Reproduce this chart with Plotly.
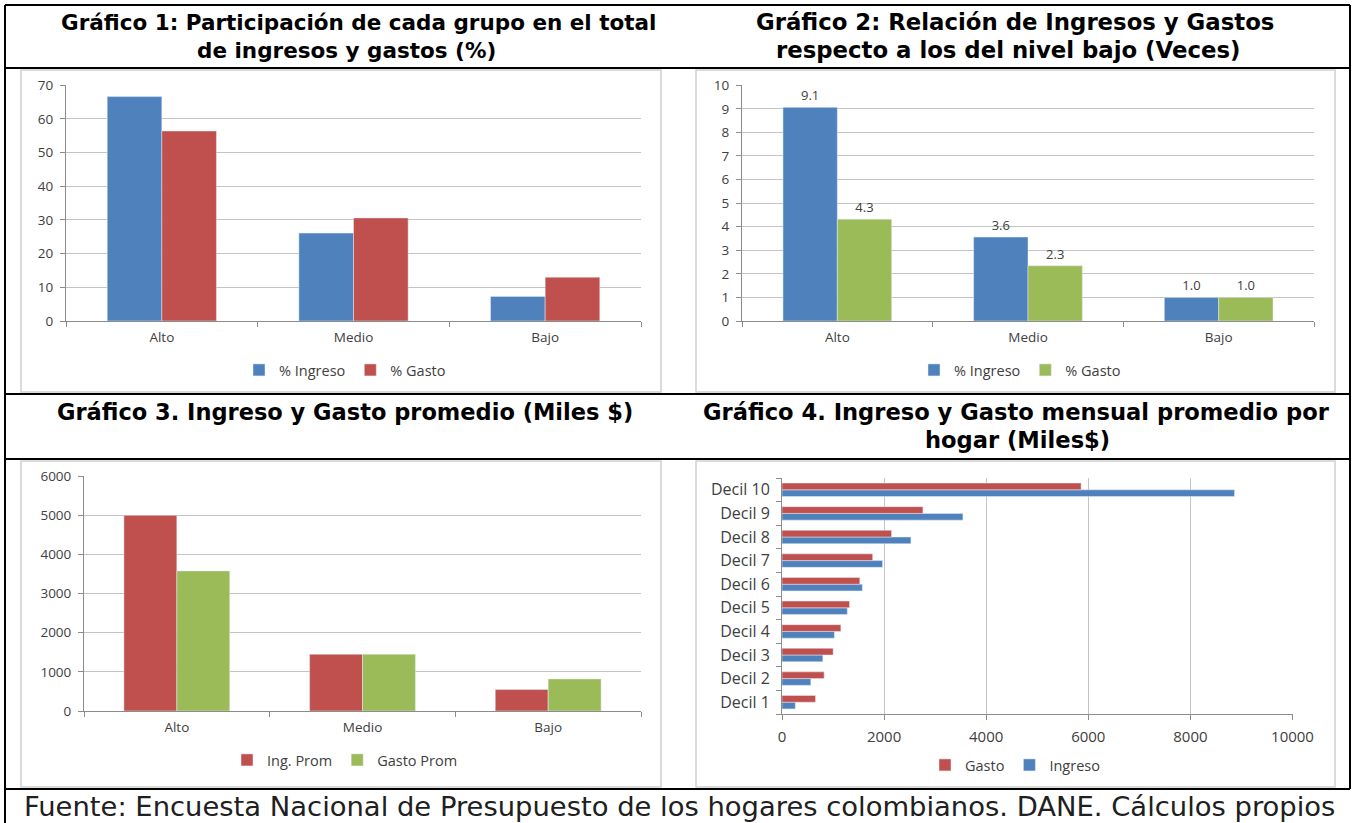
import plotly.graph_objects as go

W, H = 1353, 823
def fx(px): return px / W
def fy(py): return 1 - py / H

# ---------------- data ----------------
grupos = ["Alto", "Medio", "Bajo"]
g1_ingreso = [66.6, 26.1, 7.3]
g1_gasto = [56.4, 30.6, 13.0]

g2_ingreso = [9.06, 3.56, 1.0]
g2_gasto = [4.32, 2.34, 1.0]

g3_ing_prom = [5000, 1450, 550]
g3_gasto_prom = [3580, 1450, 820]

deciles = ["Decil 1", "Decil 2", "Decil 3", "Decil 4", "Decil 5",
           "Decil 6", "Decil 7", "Decil 8", "Decil 9", "Decil 10"]
g4_gasto = [657, 825, 1002, 1153, 1322, 1524, 1776, 2146, 2761, 5859]
g4_ingreso = [261, 564, 800, 1027, 1279, 1574, 1970, 2525, 3544, 8864]

title_lines = [
    ["Gráfico 1: Participación de cada grupo en el total", "de ingresos y gastos (%)"],
    ["Gráfico 2: Relación de Ingresos y Gastos", "respecto a los del nivel bajo (Veces)"],
    ["Gráfico 3. Ingreso y Gasto promedio (Miles $)"],
    ["Gráfico 4. Ingreso y Gasto mensual promedio por", "hogar (Miles$)"],
]
footer = "Fuente: Encuesta Nacional de Presupuesto de los hogares colombianos. DANE. Cálculos propios"

BLUE = "#4F81BD"
RED = "#C0504D"
GREEN = "#9BBB59"
GRID = "#C4C4C4"
AXC = "#8C8C8C"
TXT = "#404040"
CFONT = "Open Sans, Lato, sans-serif"

fig = go.Figure()

# Chart 1
fig.add_trace(go.Bar(x=grupos, y=g1_ingreso, name="% Ingreso", marker_color=BLUE,
                     xaxis="x", yaxis="y", legend="legend"))
fig.add_trace(go.Bar(x=grupos, y=g1_gasto, name="% Gasto", marker_color=RED,
                     xaxis="x", yaxis="y", legend="legend"))
# Chart 2
fig.add_trace(go.Bar(x=grupos, y=g2_ingreso, name="% Ingreso", marker_color=BLUE,
                     xaxis="x2", yaxis="y2", legend="legend2",
                     texttemplate="%{y:.1f}", textposition="outside",
                     textfont=dict(size=13, color=TXT, family=CFONT), cliponaxis=False))
fig.add_trace(go.Bar(x=grupos, y=g2_gasto, name="% Gasto", marker_color=GREEN,
                     xaxis="x2", yaxis="y2", legend="legend2",
                     texttemplate="%{y:.1f}", textposition="outside",
                     textfont=dict(size=13, color=TXT, family=CFONT), cliponaxis=False))
# Chart 3
fig.add_trace(go.Bar(x=grupos, y=g3_ing_prom, name="Ing. Prom", marker_color=RED,
                     xaxis="x3", yaxis="y3", legend="legend3"))
fig.add_trace(go.Bar(x=grupos, y=g3_gasto_prom, name="Gasto Prom", marker_color=GREEN,
                     xaxis="x3", yaxis="y3", legend="legend3"))
# Chart 4
fig.add_trace(go.Bar(y=deciles, x=g4_ingreso, name="Ingreso", orientation="h",
                     marker_color=BLUE, xaxis="x4", yaxis="y4", legend="legend4"))
fig.add_trace(go.Bar(y=deciles, x=g4_gasto, name="Gasto", orientation="h",
                     marker_color=RED, xaxis="x4", yaxis="y4", legend="legend4"))

tickf = dict(family=CFONT, size=13.5, color=TXT)

def cat_axis(domain, anchor):
    return dict(domain=domain, anchor=anchor, type="category", showline=True,
                linecolor=AXC, linewidth=1, ticks="outside", tickson="boundaries",
                ticklen=5, tickcolor=AXC, showgrid=False, tickfont=tickf,
                ticklabelstandoff=4, fixedrange=True)

def val_axis(domain, anchor, rng, dtick, fmt="d"):
    return dict(domain=domain, anchor=anchor, range=rng, dtick=dtick, showline=True,
                linecolor=AXC, linewidth=1, ticks="outside", ticklen=5, tickcolor=AXC,
                showgrid=True, gridcolor=GRID, gridwidth=1, zeroline=False,
                tickformat=fmt, tickfont=tickf, ticklabelstandoff=4, fixedrange=True)

layout = dict(
    width=W, height=H, margin=dict(l=0, r=0, t=0, b=0, pad=0, autoexpand=False),
    paper_bgcolor="white", plot_bgcolor="white",
    barmode="group", bargap=0.43, bargroupgap=0,
    xaxis=cat_axis([fx(66), fx(641)], "y"),
    yaxis=val_axis([fy(321), fy(85)], "x", [0, 70.05], 10),
    xaxis2=cat_axis([fx(742), fx(1314)], "y2"),
    yaxis2=val_axis([fy(321), fy(85)], "x2", [0, 10.008], 1),
    xaxis3=cat_axis([fx(84), fx(641)], "y3"),
    yaxis3=val_axis([fy(711), fy(476)], "x3", [0, 6005], 1000),
    xaxis4=val_axis([fx(782), fx(1293)], "y4", [0, 10010], 2000),
    yaxis4=cat_axis([fy(714), fy(478)], "x4"),
    showlegend=True,
)
layout["xaxis4"]["tickfont"] = dict(family=CFONT, size=15, color=TXT)
layout["yaxis4"]["tickfont"] = dict(family=CFONT, size=16, color=TXT)
layout["yaxis4"]["ticklabelstandoff"] = 8

def leg(xp, yp, order="normal"):
    return dict(x=fx(xp), y=fy(yp), xanchor="center", yanchor="middle",
                orientation="h", font=dict(family=CFONT, size=14.5, color=TXT),
                bgcolor="rgba(0,0,0,0)", traceorder=order, itemwidth=30,
                itemclick=False, itemdoubleclick=False)

layout["legend"] = leg(345, 370)
layout["legend2"] = leg(1020, 370)
layout["legend3"] = leg(345, 760)
layout["legend4"] = leg(1015, 765, "reversed")

fig.update_layout(**layout)

# table lines and chart frames
shapes = []
def line(x0, y0, x1, y1, color="black", w=2):
    shapes.append(dict(type="line", xref="paper", yref="paper",
                       x0=fx(x0), y0=fy(y0), x1=fx(x1), y1=fy(y1),
                       line=dict(color=color, width=w)))
line(5, 5, 1350, 5)
line(5, 5, 5, 823)
line(1350, 5, 1350, 789)
for yy in [68, 394, 459, 789]:
    line(5, yy, 1350, yy)

def frame(x0, y0, x1, y1):
    shapes.append(dict(type="rect", xref="paper", yref="paper",
                       x0=fx(x0), y0=fy(y0), x1=fx(x1), y1=fy(y1),
                       line=dict(color="#D0D0D0", width=1.5)))
frame(21, 70, 661, 392)
frame(696, 70, 1335, 392)
frame(21, 461, 661, 787)
frame(696, 461, 1335, 787)
fig.update_layout(shapes=shapes)

TFONT = dict(family="DejaVu Sans, sans-serif", size=22, color="black")
ann = []
def tline(txt, xc, yc, size=22):
    ann.append(dict(text="<b>" + txt + "</b>", x=fx(xc), y=fy(yc), xref="paper", yref="paper",
                    xanchor="center", yanchor="middle", showarrow=False,
                    font=dict(TFONT, size=size)))
tline(title_lines[0][0], 358, 22, 21.5)
tline(title_lines[0][1], 346, 50, 21.5)
tline(title_lines[1][0], 1015, 22, 22.8)
tline(title_lines[1][1], 1008, 50, 22.8)
tline(title_lines[2][0], 345, 412, 22.5)
tline(title_lines[3][0], 1016, 412, 22.6)
tline(title_lines[3][1], 1017, 440, 22.6)
ann.append(dict(text=footer, x=fx(22), y=fy(806), xref="paper", yref="paper",
                xanchor="left", yanchor="middle", showarrow=False,
                font=dict(family="DejaVu Sans, sans-serif", size=27.4, color="#202020")))
fig.update_layout(annotations=ann)

fig.write_html("out.html", config={"displayModeBar": False},
               post_script="document.body.style.margin='0';document.body.style.overflow='hidden';")
